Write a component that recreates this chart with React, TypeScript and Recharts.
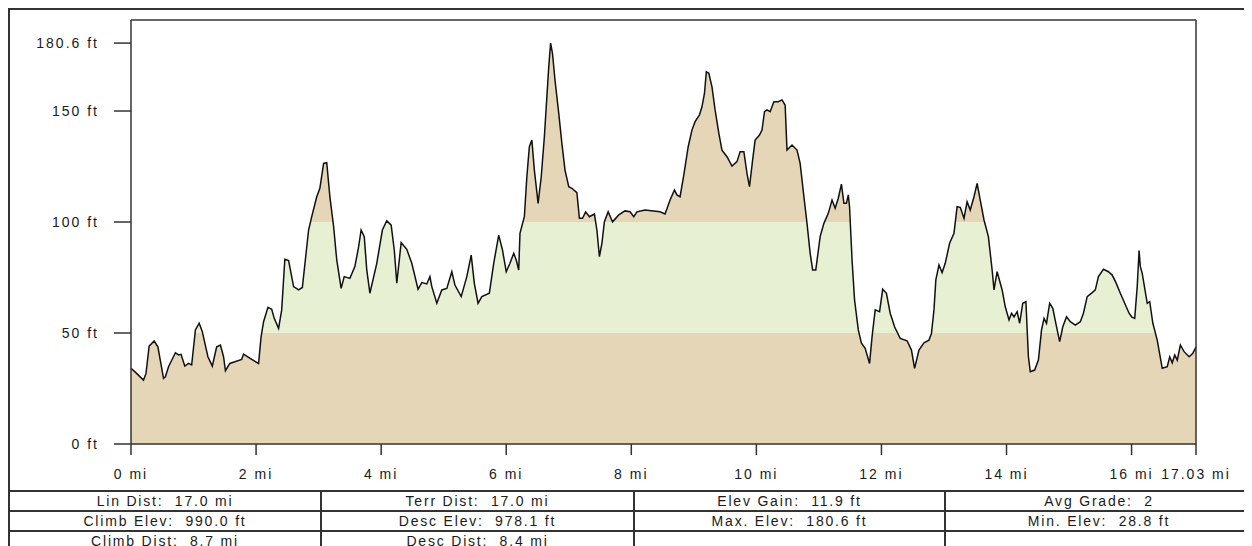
import React from 'react';
import { ComposedChart, Area, XAxis, YAxis, ReferenceLine } from 'recharts';

// distance along the route (mi) and elevation (ft)
const distances = [
  0, 0.06, 0.2, 0.24, 0.29, 0.37, 0.43, 0.52, 0.55, 0.6, 0.71, 0.76, 0.8, 0.86, 0.92, 0.97,
  1.03, 1.09, 1.14, 1.23, 1.3, 1.37, 1.43, 1.48, 1.51, 1.58, 1.77, 1.8, 1.93, 2.04, 2.08, 2.12,
  2.19, 2.25, 2.29, 2.36, 2.41, 2.46, 2.52, 2.6, 2.68, 2.74, 2.84, 2.89, 2.97, 3.02, 3.08, 3.13,
  3.18, 3.24, 3.29, 3.36, 3.41, 3.5, 3.58, 3.64, 3.68, 3.73, 3.77, 3.82, 3.93, 4.02, 4.09, 4.16,
  4.21, 4.25, 4.32, 4.41, 4.49, 4.59, 4.65, 4.73, 4.78, 4.81, 4.89, 4.97, 5.05, 5.13, 5.18, 5.28,
  5.37, 5.44, 5.49, 5.55, 5.61, 5.73, 5.8, 5.88, 5.94, 6.0, 6.06, 6.12, 6.16, 6.2, 6.22, 6.29,
  6.33, 6.37, 6.41, 6.45, 6.51, 6.56, 6.61, 6.65, 6.68, 6.71, 6.74, 6.78, 6.84, 6.89, 6.94, 7.0,
  7.05, 7.13, 7.17, 7.22, 7.27, 7.33, 7.41, 7.45, 7.49, 7.53, 7.57, 7.63, 7.7, 7.8, 7.9, 7.98,
  8.04, 8.09, 8.22, 8.46, 8.54, 8.62, 8.69, 8.73, 8.78, 8.84, 8.91, 8.97, 9.02, 9.09, 9.13, 9.17,
  9.2, 9.24, 9.29, 9.34, 9.4, 9.45, 9.53, 9.61, 9.69, 9.74, 9.8, 9.85, 9.89, 9.94, 9.98, 10.05,
  10.09, 10.13, 10.17, 10.22, 10.28, 10.35, 10.41, 10.46, 10.49, 10.57, 10.65, 10.7, 10.76, 10.81, 10.86, 10.9,
  10.95, 11.02, 11.08, 11.15, 11.21, 11.26, 11.31, 11.36, 11.4, 11.44, 11.47, 11.49, 11.53, 11.57, 11.63, 11.68,
  11.74, 11.81, 11.85, 11.9, 11.97, 12.02, 12.08, 12.14, 12.21, 12.3, 12.41, 12.48, 12.53, 12.6, 12.68, 12.76,
  12.8, 12.84, 12.87, 12.92, 12.97, 13.02, 13.09, 13.16, 13.21, 13.26, 13.32, 13.37, 13.42, 13.48, 13.53, 13.58,
  13.64, 13.71, 13.77, 13.8, 13.85, 13.93, 13.98, 14.04, 14.08, 14.12, 14.17, 14.21, 14.26, 14.31, 14.35, 14.38,
  14.45, 14.51, 14.56, 14.6, 14.64, 14.69, 14.74, 14.8, 14.85, 14.9, 14.96, 15.02, 15.1, 15.18, 15.23, 15.29,
  15.37, 15.42, 15.47, 15.55, 15.63, 15.69, 15.75, 15.82, 15.89, 15.96, 16.0, 16.05, 16.09, 16.12, 16.14, 16.17,
  16.25, 16.29, 16.34, 16.41, 16.49, 16.57, 16.61, 16.65, 16.69, 16.73, 16.78, 16.84, 16.92, 16.98, 17.03,
];

const elevations = [
  34.1, 32.6, 28.8, 31.8, 44.1, 46.4, 43.8, 29.6, 30.3, 34.8, 41.1, 40.1, 40.4, 35.1, 36.3, 35.6,
  51.4, 54.4, 50.6, 39.3, 35.1, 43.8, 44.6, 39.3, 33.0, 36.3, 38.1, 40.5, 38.1, 36.3, 48.3, 55.1,
  61.6, 60.7, 56.6, 52.1, 60.4, 83.2, 82.6, 70.9, 69.4, 70.5, 96.4, 102.4, 111.4, 115.2, 126.4, 126.7,
  111.4, 97.9, 82.9, 70.1, 75.4, 74.6, 79.9, 88.9, 96.4, 93.4, 78.4, 67.9, 81.4, 96.4, 100.6, 98.6,
  87.4, 72.4, 90.7, 87.7, 81.4, 69.7, 72.7, 72.1, 75.4, 70.9, 63.4, 69.4, 70.1, 77.6, 71.6, 66.4,
  75.4, 85.1, 72.4, 63.4, 66.4, 67.9, 81.4, 94.1, 87.4, 77.6, 81.4, 85.9, 82.9, 78.4, 94.9, 102.4,
  120.4, 133.9, 136.9, 123.4, 108.4, 120.4, 138.4, 156.4, 169.9, 180.6, 175.9, 163.9, 148.9, 135.4, 123.4, 115.9,
  115.2, 113.2, 101.7, 101.7, 104.6, 102.4, 103.6, 96.4, 84.4, 90.4, 100.1, 104.6, 100.1, 103.2, 105.0, 104.6,
  102.4, 104.6, 105.4, 104.6, 103.6, 109.9, 114.4, 112.2, 111.4, 121.2, 133.9, 141.4, 145.2, 148.2, 151.9, 157.9,
  167.7, 167.0, 160.9, 150.5, 139.9, 132.4, 129.4, 125.2, 127.2, 131.7, 131.7, 121.9, 115.9, 127.9, 136.9, 139.2,
  141.4, 149.7, 150.5, 149.7, 154.2, 154.2, 155.0, 152.7, 132.4, 134.7, 132.4, 126.4, 111.4, 99.4, 85.9, 78.4,
  78.4, 93.4, 99.4, 103.9, 109.9, 106.2, 110.7, 117.1, 108.4, 108.4, 112.2, 106.9, 82.9, 64.9, 51.4, 45.4,
  43.1, 36.3, 48.3, 60.4, 59.6, 69.7, 67.9, 58.9, 52.8, 47.6, 46.5, 42.3, 34.1, 42.3, 45.6, 46.8,
  49.8, 60.4, 73.9, 80.6, 77.2, 81.4, 90.4, 94.9, 106.9, 106.6, 101.7, 109.1, 105.4, 111.4, 117.4, 109.9,
  100.9, 93.4, 78.4, 69.4, 77.6, 69.4, 61.8, 55.9, 58.9, 57.3, 59.6, 54.4, 63.4, 64.1, 39.3, 32.6,
  33.3, 37.8, 51.4, 56.6, 54.4, 63.4, 61.1, 52.8, 46.1, 52.8, 57.3, 55.1, 53.6, 55.1, 58.9, 66.4,
  68.2, 69.4, 75.4, 78.7, 77.6, 76.1, 72.7, 67.9, 63.4, 58.9, 57.3, 56.6, 70.9, 87.1, 79.9, 76.9,
  63.4, 64.1, 54.4, 46.8, 34.1, 34.8, 39.3, 36.6, 40.1, 37.8, 44.6, 41.6, 39.3, 40.9, 43.6,
];

const distTicks = [0, 2, 4, 6, 8, 10, 12, 14, 16, 17.03];
const elevTicks = [0, 50, 100, 150, 180.6];
const distMax = 17.03;
const elevTop = 191;
const bandLow = 50;
const bandHigh = 100;

const statsRows = [
  ['Lin Dist:  17.0 mi', 'Terr Dist:  17.0 mi', 'Elev Gain:  11.9 ft', 'Avg Grade:  2'],
  ['Climb Elev:  990.0 ft', 'Desc Elev:  978.1 ft', 'Max. Elev:  180.6 ft', 'Min. Elev:  28.8 ft'],
  ['Climb Dist:  8.7 mi', 'Desc Dist:  8.4 mi', '', ''],
];

const TAN = '#E6D6B8';
const GREEN = '#E8F0D3';
const FRAME = '#333';
const FONT = '"Liberation Sans", Arial, sans-serif';

const data = distances.map((d, i) => ({ dist: d, elev: elevations[i] }));

// the fill gradient spans the area's box: from the highest point down to 0 ft
const maxElev = Math.max(...elevations);
const highStop = (maxElev - bandHigh) / maxElev;
const lowStop = (maxElev - bandLow) / maxElev;

const tickStyle = { fontSize: 14, fill: '#1a1a1a', fontFamily: FONT, letterSpacing: 2 };

export default function App() {
  return (
    <div
      style={{
        width: 1242,
        borderTop: `2px solid ${FRAME}`,
        borderLeft: `2px solid ${FRAME}`,
        fontFamily: FONT,
        background: '#fff',
      }}
    >
      <ComposedChart
        width={1242}
        height={474}
        data={data}
        margin={{ top: 10, right: 56, bottom: 0, left: 0 }}
      >
        <defs>
          <linearGradient id="elevBands" x1="0" y1="0" x2="0" y2="1">
            <stop offset={0} stopColor={TAN} />
            <stop offset={highStop} stopColor={TAN} />
            <stop offset={highStop} stopColor={GREEN} />
            <stop offset={lowStop} stopColor={GREEN} />
            <stop offset={lowStop} stopColor={TAN} />
            <stop offset={1} stopColor={TAN} />
          </linearGradient>
        </defs>
        <XAxis
          dataKey="dist"
          type="number"
          domain={[0, distMax]}
          ticks={distTicks}
          interval={0}
          tickFormatter={(v) => `${v} mi`}
          tickSize={11}
          tickMargin={14}
          height={40}
          axisLine={{ stroke: FRAME, strokeWidth: 1.5 }}
          tickLine={{ stroke: FRAME, strokeWidth: 1.5 }}
          tick={tickStyle}
        />
        <YAxis
          type="number"
          domain={[0, elevTop]}
          ticks={elevTicks}
          interval={0}
          tickFormatter={(v) => `${v} ft`}
          width={121}
          tickSize={17}
          tickMargin={15}
          axisLine={{ stroke: FRAME, strokeWidth: 1.5 }}
          tickLine={{ stroke: FRAME, strokeWidth: 1.5 }}
          tick={tickStyle}
        />
        <Area
          type="linear"
          dataKey="elev"
          stroke="#111"
          strokeWidth={1.5}
          fill="url(#elevBands)"
          fillOpacity={1}
          dot={false}
          activeDot={false}
          isAnimationActive={false}
        />
        {/* top and right edges of the plot frame */}
        <ReferenceLine y={elevTop} stroke={FRAME} strokeWidth={1.5} />
        <ReferenceLine x={distMax} stroke={FRAME} strokeWidth={1.5} />
      </ComposedChart>
      <table
        style={{
          marginTop: 6,
          width: 1242,
          borderCollapse: 'collapse',
          tableLayout: 'fixed',
          fontSize: 14,
          letterSpacing: 1.8,
          color: '#1a1a1a',
        }}
      >
        <colgroup>
          <col style={{ width: 311 }} />
          <col style={{ width: 313 }} />
          <col style={{ width: 311 }} />
          <col />
        </colgroup>
        <tbody>
          {statsRows.map((row, r) => (
            <tr key={r}>
              {row.map((cell, c) => (
                <td
                  key={c}
                  style={{
                    height: 18,
                    padding: 0,
                    lineHeight: '18px',
                    textAlign: 'center',
                    whiteSpace: 'pre',
                    borderTop: `2px solid ${FRAME}`,
                    borderLeft: c > 0 ? `2px solid ${FRAME}` : 'none',
                  }}
                >
                  {cell}
                </td>
              ))}
            </tr>
          ))}
        </tbody>
      </table>
    </div>
  );
}
